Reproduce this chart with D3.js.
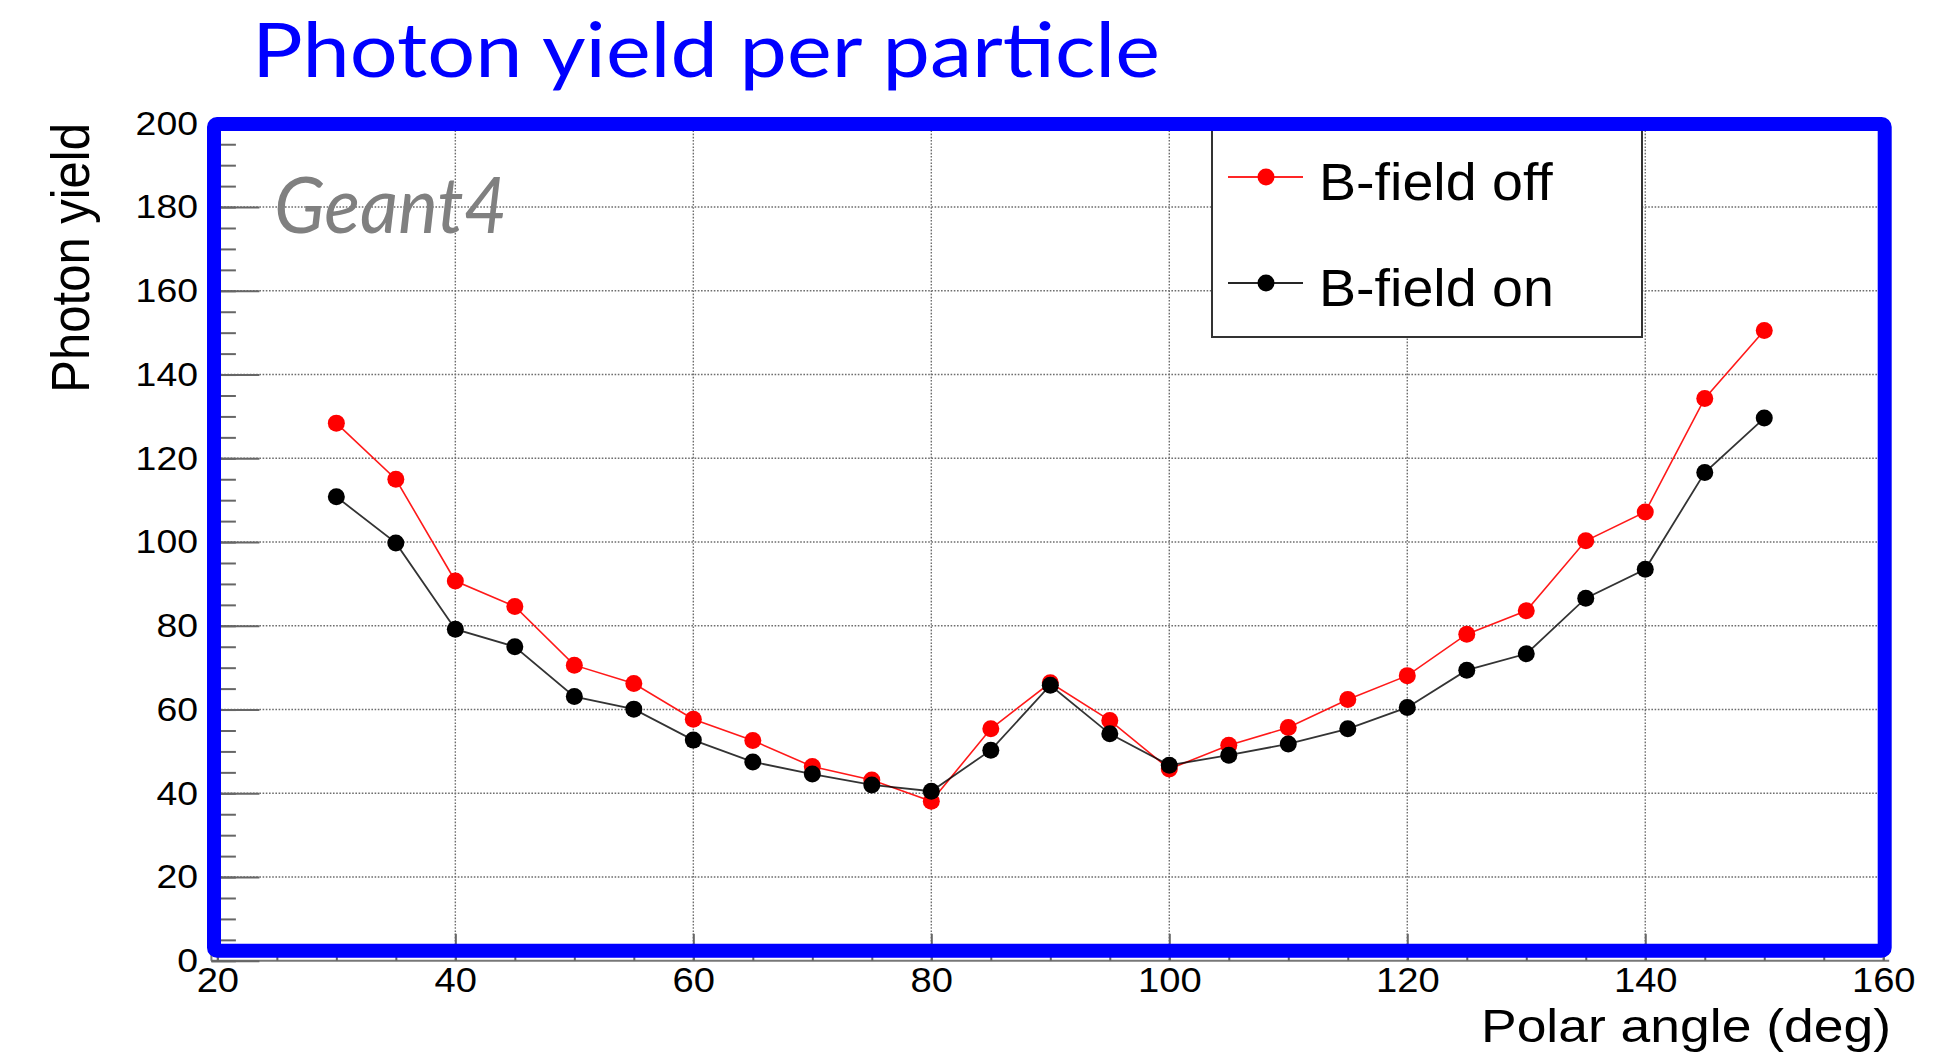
<!DOCTYPE html>
<html>
<head>
<meta charset="utf-8">
<script src="https://cdn.jsdelivr.net/npm/d3@7"></script>
<style>
  html, body { margin: 0; padding: 0; background: #fff; }
  svg { display: block; }
  text { font-family: "Liberation Sans", Arial, Helvetica, sans-serif; }
</style>
</head>
<body>
<svg id="chart" width="1946" height="1053"></svg>
<script>
// ---- data ----
const angles = [30, 35, 40, 45, 50, 55, 60, 65, 70, 75, 80, 85, 90, 95, 100, 105, 110, 115, 120, 125, 130, 135, 140, 145, 150];
const fieldOff = [128.4, 115.0, 90.7, 84.6, 70.6, 66.2, 57.7, 52.6, 46.4, 43.2, 38.1, 55.4, 66.4, 57.4, 45.8, 51.5, 55.7, 62.4, 68.1, 78.0, 83.6, 100.3, 107.2, 134.3, 150.5];
const fieldOn  = [110.8, 99.8, 79.2, 75.0, 63.1, 60.1, 52.7, 47.5, 44.6, 42.0, 40.5, 50.3, 65.8, 54.2, 46.7, 49.1, 51.8, 55.4, 60.5, 69.4, 73.3, 86.6, 93.5, 116.6, 129.6];
const xTicks = [20, 40, 60, 80, 100, 120, 140, 160];
const yTicks = [0, 20, 40, 60, 80, 100, 120, 140, 160, 180, 200];
const xMinorTicks = d3.range(20, 161, 5);
const yMinorTicks = d3.range(0, 201, 5);
const seriesNames = ["B-field off", "B-field on"];
const seriesColors = ["#ff0000", "#000000"];
const titleText = "Photon yield per particle";
const xTitle = "Polar angle (deg)";
const yTitle = "Photon yield";
const tagText = "Geant4";

// ---- layout ----
const svg = d3.select("#chart");
const x = d3.scaleLinear().domain([19.5, 160.5]).range([211.4, 1889.2]);
const y = d3.scaleLinear().domain([0, 200]).range([960.8, 123.3]);
const SX = 1.1; // horizontal widening of the original glyphs

function widen(sel, f) {
  sel.each(function () {
    const len = this.getComputedTextLength();
    d3.select(this).attr("textLength", len * f).attr("lengthAdjust", "spacingAndGlyphs");
  });
}

// grid
const grid = svg.append("g").attr("stroke", "#6e6e6e").attr("stroke-width", 1.4)
  .attr("stroke-dasharray", "1.6,1.6");
grid.selectAll("line.v").data(xTicks.slice(1, -1)).join("line")
  .attr("x1", d => x(d)).attr("x2", d => x(d)).attr("y1", y(0)).attr("y2", y(200));
grid.selectAll("line.h").data(yTicks.slice(1, -1)).join("line")
  .attr("x1", x.range()[0]).attr("x2", x.range()[1]).attr("y1", d => y(d)).attr("y2", d => y(d));

// axis lines
svg.append("line").attr("x1", x.range()[0]).attr("x2", x.range()[1])
  .attr("y1", y(0)).attr("y2", y(0)).attr("stroke", "#777").attr("stroke-width", 2);
svg.append("line").attr("x1", x.range()[0]).attr("x2", x.range()[0])
  .attr("y1", y(0)).attr("y2", y(200)).attr("stroke", "#777").attr("stroke-width", 2);

// x ticks (pointing up into the frame)
function styleTicks(g) {
  g.select(".domain").remove();
  g.selectAll(".tick line").attr("stroke", "#666").attr("stroke-width", 2);
}
svg.append("g").attr("transform", `translate(0,${y(0)})`)
  .call(d3.axisTop(x).tickValues(xMinorTicks).tickSize(13.5).tickFormat(""))
  .call(styleTicks);
svg.append("g").attr("transform", `translate(0,${y(0)})`)
  .call(d3.axisTop(x).tickValues(xTicks).tickSize(27).tickFormat(""))
  .call(styleTicks);
// y ticks (pointing right into the frame)
svg.append("g").attr("transform", `translate(${x.range()[0]},0)`)
  .call(d3.axisRight(y).tickValues(yMinorTicks).tickSize(24.5).tickFormat(""))
  .call(styleTicks);
svg.append("g").attr("transform", `translate(${x.range()[0]},0)`)
  .call(d3.axisRight(y).tickValues(yTicks).tickSize(48).tickFormat(""))
  .call(styleTicks);

// tick labels
const xLab = svg.append("g").attr("transform", `translate(0,${y(0)})`)
  .call(d3.axisBottom(x).tickValues(xTicks).tickSize(0).tickPadding(6.5).tickFormat(d3.format("d")));
xLab.select(".domain").remove();
xLab.selectAll("text").attr("font-size", 35).attr("fill", "#000")
  .style("font-family", '"Liberation Sans", Arial, sans-serif');
widen(xLab.selectAll("text"), 1.09);

const yLab = svg.append("g").attr("transform", `translate(${x.range()[0]},0)`)
  .call(d3.axisLeft(y).tickValues(yTicks).tickSize(0).tickPadding(13.4).tickFormat(d3.format("d")));
yLab.select(".domain").remove();
yLab.selectAll("text").attr("font-size", 34).attr("fill", "#000")
  .style("font-family", '"Liberation Sans", Arial, sans-serif');
widen(yLab.selectAll("text"), SX);

// axis titles
svg.append("text").attr("x", 1891).attr("y", 1041.5).attr("text-anchor", "end")
  .attr("font-size", 46).attr("fill", "#000").text(xTitle)
  .attr("textLength", 410).attr("lengthAdjust", "spacingAndGlyphs");

svg.append("text")
  .attr("transform", "translate(88.5,123) scale(1.1,1) rotate(-90)")
  .attr("text-anchor", "end").attr("font-size", 49).attr("fill", "#000").text(yTitle);

// data lines and markers
const series = [fieldOff, fieldOn];
const line = d3.line().x((d, i) => x(angles[i])).y(d => y(d));
series.forEach((vals, k) => {
  const g = svg.append("g");
  g.append("path").datum(vals).attr("d", line).attr("fill", "none")
    .attr("stroke", seriesColors[k]).attr("stroke-width", k === 0 ? 1.6 : 1.8)
    .attr("stroke-opacity", k === 0 ? 0.9 : 0.8);
  g.selectAll("circle").data(vals).join("circle")
    .attr("cx", (d, i) => x(angles[i])).attr("cy", d => y(d)).attr("r", 8.5)
    .attr("fill", seriesColors[k]);
});

// legend
const leg = svg.append("g");
leg.append("rect").attr("x", 1212).attr("y", 124).attr("width", 430).attr("height", 213)
  .attr("fill", "#fff").attr("stroke", "#333").attr("stroke-width", 2);
const legY = [177, 283];
const legBase = [200, 306];
seriesNames.forEach((name, k) => {
  leg.append("line").attr("x1", 1228).attr("x2", 1303).attr("y1", legY[k]).attr("y2", legY[k])
    .attr("stroke", seriesColors[k]).attr("stroke-width", 1.8).attr("stroke-opacity", 0.85);
  leg.append("circle").attr("cx", 1266).attr("cy", legY[k]).attr("r", 8.5).attr("fill", seriesColors[k]);
  const t = leg.append("text").attr("x", 1319).attr("y", legBase[k]).attr("font-size", 51)
    .attr("fill", "#000").text(name);
  widen(t, 1.09);
});

// blue frame overlay
svg.append("rect").attr("x", 214).attr("y", 124).attr("width", 1670.7).attr("height", 826.7)
  .attr("rx", 3).attr("fill", "none").attr("stroke", "#0000ff").attr("stroke-width", 14)
  .attr("stroke-linejoin", "round");

// Geant4 tag
svg.append("text").attr("x", 274).attr("y", 233).attr("font-size", 78)
  .style("font-family", "Lato, 'Open Sans', sans-serif").attr("font-style", "italic")
  .attr("fill", "#808080").text(tagText)
  .attr("textLength", 233).attr("lengthAdjust", "spacingAndGlyphs");

// title
svg.append("text").attr("x", 252).attr("y", 77).attr("font-size", 76)
  .style("font-family", "Lato, 'Open Sans', sans-serif")
  .attr("fill", "#0000ff").text(titleText)
  .attr("textLength", 908).attr("lengthAdjust", "spacingAndGlyphs");
</script>
</body>
</html>
